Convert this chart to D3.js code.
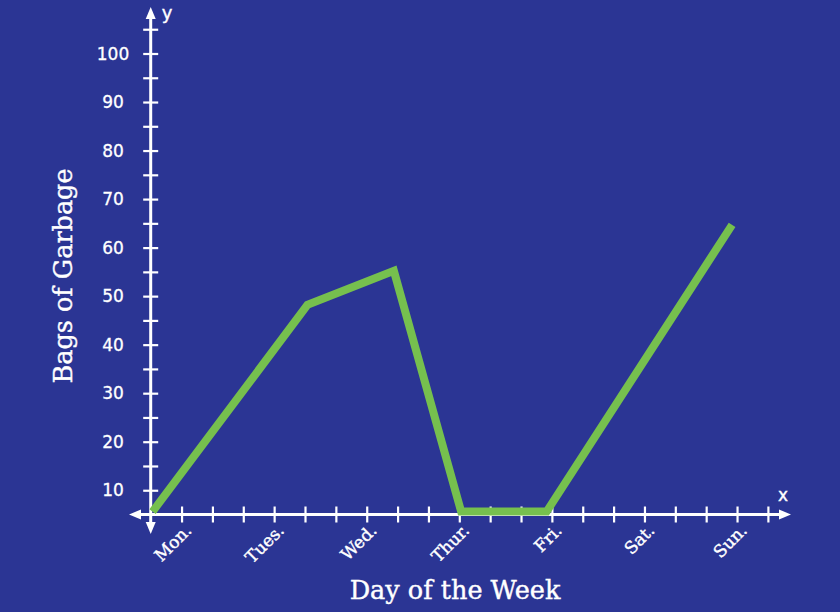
<!DOCTYPE html>
<html><head><meta charset="utf-8">
<script src="https://cdn.jsdelivr.net/npm/d3@7"></script>
<style>html,body{margin:0;padding:0;background:#2b3594;}svg{display:block}</style>
</head><body>
<svg id="c" width="840" height="612"></svg>
<script>
const days = ["Mon.","Tues.","Wed.","Thur.","Fri.","Sat.","Sun."];
const dayTickPos = [1,4,7,10,13,16,19];
const pointPos = [0.06, 5.08, 7.88, 10.06, 12.83, 18.84];
const bags = [5.6, 48.2, 55.2, 5.6, 5.6, 64.7];
const yLabels = [10,20,30,40,50,60,70,80,90,100];
const yMinor = d3.range(10,106,5);
const xTicks = d3.range(1,21);

const svg = d3.select("#c");
const W=840,H=612;
svg.append("rect").attr("width",W).attr("height",H).attr("fill","#2b3594");

const x = d3.scaleLinear().domain([0,20]).range([150.7,767.9]);
const y = d3.scaleLinear().domain([5,100]).range([514.5,53.5]);
const white="#ffffff";
const x0=x(0), y0=y(5);

// axes lines
svg.append("line").attr("x1",x0).attr("x2",x0).attr("y1",14).attr("y2",527).attr("stroke",white).attr("stroke-width",3);
svg.append("line").attr("x1",138).attr("x2",783).attr("y1",y0).attr("y2",y0).attr("stroke",white).attr("stroke-width",3);
// arrows
const arrow=(pts)=>svg.append("path").attr("d","M"+pts.map(p=>p.join(",")).join("L")+"Z").attr("fill",white);
arrow([[x0,7],[x0-5,19],[x0+5,19]]);
arrow([[x0,534],[x0-5,522],[x0+5,522]]);
arrow([[129,y0],[141,y0-5],[141,y0+5]]);
arrow([[791,y0],[779,y0-5],[779,y0+5]]);

// y ticks
const yAxis = d3.axisLeft(y).tickValues(yMinor).tickSize(0).tickFormat("");
const gy = svg.append("g").attr("transform",`translate(${x0},0)`).call(yAxis);
gy.select(".domain").remove();
gy.selectAll(".tick").append("line").attr("x1",-7.5).attr("x2",7.5).attr("stroke",white).attr("stroke-width",2.2);
svg.selectAll(".ylab").data(yLabels).join("text").attr("class","ylab")
 .attr("x",113).attr("y",d=>y(d)).attr("dy","0.36em").attr("text-anchor","middle")
 .attr("fill",white).attr("stroke",white).attr("stroke-width",0.3)
 .attr("font-family","'DejaVu Sans', sans-serif").attr("font-size",17).text(d=>d);

// x ticks
const xAxis = d3.axisBottom(x).tickValues(xTicks).tickSize(0).tickFormat("");
const gx = svg.append("g").attr("transform",`translate(0,${y0})`).call(xAxis);
gx.select(".domain").remove();
gx.selectAll(".tick").append("line").attr("y1",-8).attr("y2",8).attr("stroke",white).attr("stroke-width",2.2);

svg.selectAll(".xlab").data(days).join("text").attr("class","xlab")
 .attr("transform",(d,i)=>`translate(${x(dayTickPos[i])+11},${y0+17}) rotate(-45)`)
 .attr("text-anchor","end").attr("fill",white).attr("stroke",white).attr("stroke-width",0.4)
 .attr("font-family","'DejaVu Serif', serif").attr("font-size",17).text(d=>d);

// axis letters
svg.append("text").attr("x",167).attr("y",19).attr("text-anchor","middle").attr("fill",white)
 .attr("stroke",white).attr("stroke-width",0.4)
 .attr("font-family","'DejaVu Sans', sans-serif").attr("font-size",18).text("y");
svg.append("text").attr("x",783).attr("y",501).attr("text-anchor","middle").attr("fill",white)
 .attr("stroke",white).attr("stroke-width",0.4)
 .attr("font-family","'DejaVu Sans', sans-serif").attr("font-size",17).text("x");

// titles
svg.append("text").attr("x",455).attr("y",599).attr("text-anchor","middle").attr("fill",white)
 .attr("stroke",white).attr("stroke-width",0.4)
 .attr("font-family","'DejaVu Serif', serif").attr("font-size",25.5).text("Day of the Week");
svg.append("text").attr("transform","translate(72,276) rotate(-90)").attr("text-anchor","middle").attr("fill",white)
 .attr("stroke",white).attr("stroke-width",0.4)
 .attr("font-family","'DejaVu Serif', serif").attr("font-size",25.5).text("Bags of Garbage");

// line
const data = pointPos.map((p,i)=>({p, v:bags[i]}));
svg.append("path").datum(data)
 .attr("d", d3.line().x(d=>x(d.p)).y(d=>y(d.v)))
 .attr("fill","none").attr("stroke","#76c04e").attr("stroke-width",8)
 .attr("stroke-linejoin","miter").attr("stroke-linecap","butt");
</script>
</body></html>
